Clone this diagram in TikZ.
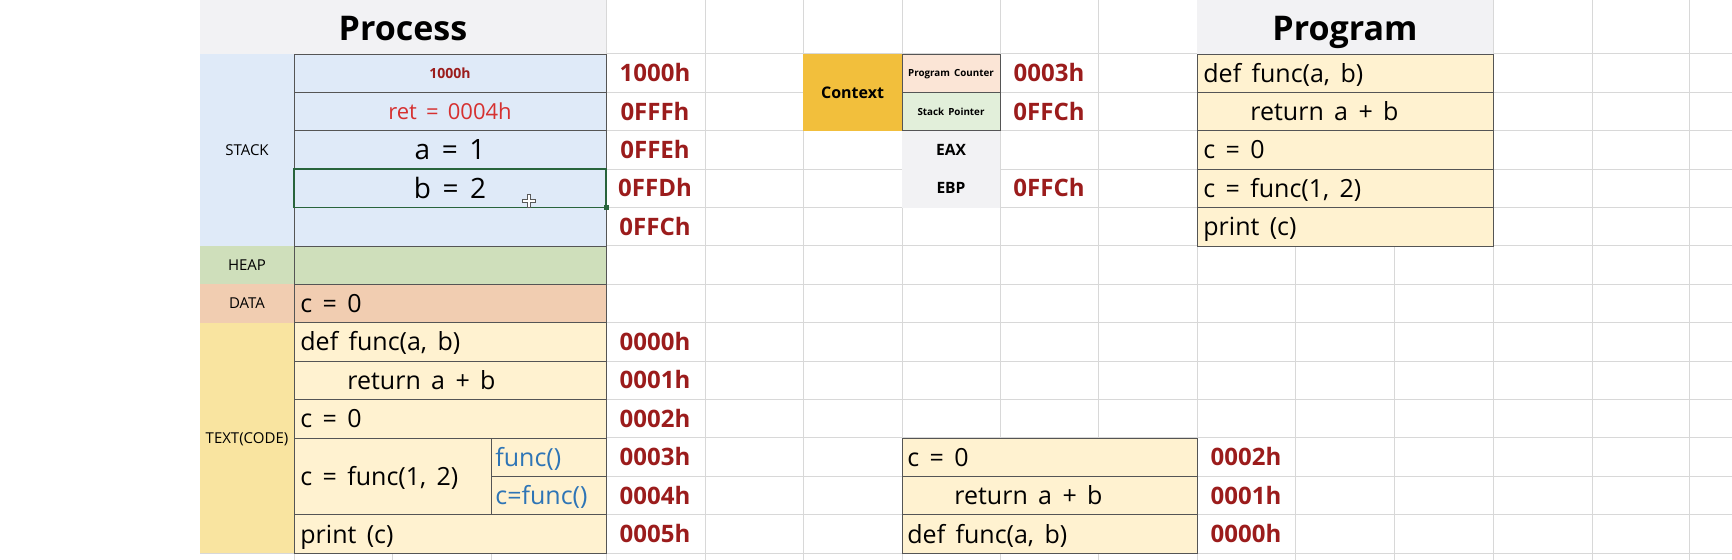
\documentclass[tikz,border=0pt]{standalone}
\usepackage{fontspec}
\setmainfont[WordSpace=1.6]{Open Sans}
\definecolor{gridgray}{RGB}{216,216,216}
\definecolor{cellborder}{RGB}{85,85,85}
\definecolor{hdrgray}{RGB}{242,242,244}
\definecolor{stackblue}{RGB}{223,234,248}
\definecolor{heapgreen}{RGB}{207,223,187}
\definecolor{datapeach}{RGB}{241,205,177}
\definecolor{textgold}{RGB}{249,228,160}
\definecolor{codecream}{RGB}{255,242,208}
\definecolor{ctxgold}{RGB}{242,191,60}
\definecolor{pcpeach}{RGB}{251,229,214}
\definecolor{spgreen}{RGB}{226,239,218}
\definecolor{reggray}{RGB}{242,242,244}
\definecolor{addrred}{RGB}{155,28,28}
\definecolor{retred}{RGB}{214,48,48}
\definecolor{funcblue}{RGB}{46,117,182}
\definecolor{selgreen}{RGB}{40,100,60}
\newcommand\myfs[1]{\fontsize{#1}{#1}\selectfont}
\begin{document}
\begin{tikzpicture}[x=0.5pt,y=-0.5pt,
  grid/.style={draw=gridgray,line width=0.5pt},
  cellb/.style={draw=cellborder,line width=0.45pt},
  code/.style={anchor=west,inner sep=0pt,font=\myfs{12.5},text height=9pt,text depth=0pt},
  blue/.style={code,text=funcblue},
  big/.style={inner sep=0pt,font=\myfs{14},text height=10pt,text depth=0pt},
  rettext/.style={inner sep=0pt,font=\myfs{11},text=retred,text height=8pt,text depth=0pt},
  addr/.style={inner sep=0pt,font=\bfseries\myfs{12},text=addrred,text height=8.6pt,text depth=0pt},
  addrsmall/.style={inner sep=0pt,font=\bfseries\myfs{7},text=addrred,text height=5pt,text depth=0pt},
  seglabel/.style={inner sep=0pt,font=\myfs{7.5},text height=5.4pt,text depth=0pt},
  title/.style={inner sep=0pt,font=\bfseries\myfs{17},text height=12.2pt,text depth=0pt},
  ctx/.style={inner sep=0pt,font=\bfseries\myfs{8},text height=5.7pt,text depth=0pt},
  reglabel/.style={inner sep=0pt,font=\bfseries\myfs{4.9},text height=3.5pt,text depth=0pt},
  regname/.style={inner sep=0pt,font=\bfseries\myfs{7.8},text height=5.6pt,text depth=0pt}]
\useasboundingbox (0,0) rectangle (1732,560);
\fill[white] (0,0) rectangle (1732,560);
% spreadsheet grid
\foreach \y in {54,92.4,130.8,169.2,207.6,246,284.4,322.8,361.2,399.6,438,476.4,514.8,553.2}
  \draw[grid] (200,\y) -- (1732,\y);
\foreach \x in {294,392,491,606,705,803,902,1000,1098,1197,1295,1394,1493,1592,1689}
  \draw[grid] (\x,0) -- (\x,560);
% headers
\fill[hdrgray] (200,0) rectangle (606,54);
\fill[hdrgray] (1197,0) rectangle (1493,54);
% process segments
\fill[stackblue] (200,54) rectangle (606,246);
\fill[heapgreen] (200,246) rectangle (606,284.4);
\fill[datapeach] (200,284.4) rectangle (606,322.8);
\fill[textgold] (200,322.8) rectangle (294,553.2);
\fill[codecream] (294,322.8) rectangle (606,553.2);
\foreach \a/\b in {54/92.4,92.4/130.8,130.8/169.2,169.2/207.6,207.6/246,246/284.4,284.4/322.8,322.8/361.2,361.2/399.6,399.6/438,514.8/553.2}
  \draw[cellb] (294,\a) rectangle (606,\b);
\draw[cellb] (294,438) rectangle (491,514.8);
\draw[cellb] (491,438) rectangle (606,476.4);
\draw[cellb] (491,476.4) rectangle (606,514.8);
% selected cell
\draw[selgreen,line width=0.8pt] (294,169.2) rectangle (606,207.6);
\fill[selgreen] (603.5,205.1) rectangle (608.5,210.1);
% context
\fill[ctxgold] (803,54) rectangle (902,130.8);
\filldraw[fill=pcpeach,cellb] (902,54) rectangle (1000,92.4);
\filldraw[fill=spgreen,cellb] (902,92.4) rectangle (1000,130.8);
\fill[reggray] (902,130.8) rectangle (1000,207.6);
% program
\fill[codecream] (1197,54) rectangle (1493,246);
\foreach \a/\b in {54/92.4,92.4/130.8,130.8/169.2,169.2/207.6,207.6/246}
  \draw[cellb] (1197,\a) rectangle (1493,\b);
% call stack at bottom right
\fill[codecream] (902,438) rectangle (1197,553.2);
\foreach \a/\b in {438/476.4,476.4/514.8,514.8/553.2}
  \draw[cellb] (902,\a) rectangle (1197,\b);
% titles
\node[title] (proc) at (403,28) {Process};
\node[title] (prog) at (1345,28) {Program};
% segment labels
\node[seglabel] (lstack) at (247,150) {STACK};
\node[seglabel] (lheap) at (247,265.2) {HEAP};
\node[seglabel] (ldata) at (247,303.6) {DATA};
\node[seglabel] (ltext) at (247,438) {TEXT(CODE)};
% stack contents
\node[addrsmall] (s0) at (450,73.2) {1000h};
\node[rettext] (s1) at (450,111.6) {ret = 0004h};
\node[big] (s2) at (450,150) {a = 1};
\node[big] (s3) at (450,188.4) {b = 2};
% data / code
\node[code] (d0) at (300,303.6) {c = 0};
\node[code] (t0) at (300,342) {def func(a, b)};
\node[code] (t1) at (347,380.4) {return a + b};
\node[code] (t2) at (300,418.8) {c = 0};
\node[code] (t3) at (300,476.4) {c = func(1, 2)};
\node[blue] (t3a) at (495,457.2) {func()};
\node[blue] (t3b) at (495,495.6) {c=func()};
\node[code] (t5) at (300,534) {print (c)};
% addresses
\node[addr] (a0) at (655,73.2) {1000h};
\node[addr] (a1) at (655,111.6) {0FFFh};
\node[addr] (a2) at (655,150) {0FFEh};
\node[addr] (a3) at (655,188.4) {0FFDh};
\node[addr] (a4) at (655,226.8) {0FFCh};
\node[addr] (c0) at (655,342) {0000h};
\node[addr] (c1) at (655,380.4) {0001h};
\node[addr] (c2) at (655,418.8) {0002h};
\node[addr] (c3) at (655,457.2) {0003h};
\node[addr] (c4) at (655,495.6) {0004h};
\node[addr] (c5) at (655,534) {0005h};
% context texts
\node[ctx] (ctx) at (852.5,92.4) {Context};
\node[reglabel] (pc) at (951,73.2) {Program Counter};
\node[reglabel] (sp) at (951,111.6) {Stack Pointer};
\node[regname] (eax) at (951,150) {EAX};
\node[regname] (ebp) at (951,188.4) {EBP};
\node[addr] (pcv) at (1049,73.2) {0003h};
\node[addr] (spv) at (1049,111.6) {0FFCh};
\node[addr] (ebpv) at (1049,188.4) {0FFCh};
% program texts
\node[code] (p0) at (1203,73.2) {def func(a, b)};
\node[code] (p1) at (1250,111.6) {return a + b};
\node[code] (p2) at (1203,150) {c = 0};
\node[code] (p3) at (1203,188.4) {c = func(1, 2)};
\node[code] (p4) at (1203,226.8) {print (c)};
% bottom right stack
\node[code] (b0) at (907,457.2) {c = 0};
\node[code] (b1) at (954,495.6) {return a + b};
\node[code] (b2) at (907,534) {def func(a, b)};
\node[addr] (ba0) at (1246,457.2) {0002h};
\node[addr] (ba1) at (1246,495.6) {0001h};
\node[addr] (ba2) at (1246,534) {0000h};
% mouse cursor
\draw[fill=white,draw=black!65,line width=0.4pt] (527.2,194.5) -- (530.8,194.5) -- (530.8,199.2) -- (535.5,199.2) -- (535.5,202.8) -- (530.8,202.8) -- (530.8,207.5) -- (527.2,207.5) -- (527.2,202.8) -- (522.5,202.8) -- (522.5,199.2) -- (527.2,199.2) -- cycle;
\end{tikzpicture}
\end{document}
